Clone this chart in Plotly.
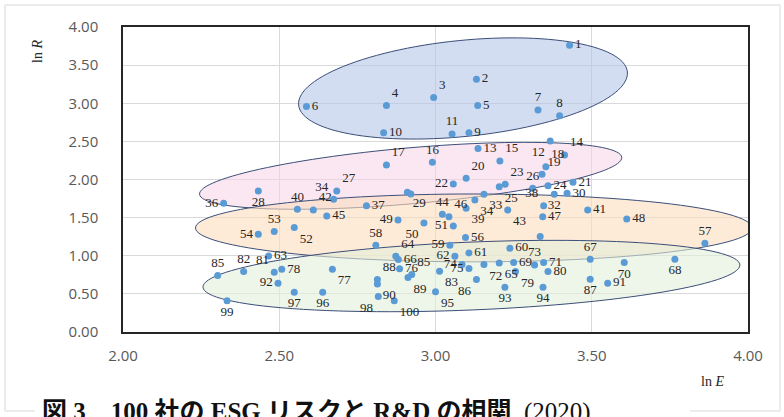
import math
import plotly.graph_objects as go

# ---- data: ln E (x) and ln R (y) for each company, with its point label ----
labels = ["1", "2", "3", "4", "5", "6", "7", "8", "9", "10",
          "11", "12", "13", "14", "15", "16", "17", "18", "19", "20",
          "21", "22", "23", "24", "25", "26", "27", "28", "29", "30",
          "", "32", "33", "34", "34", "36", "37", "38", "39", "40",
          "41", "42", "43", "44", "45", "46", "47", "48", "49", "50",
          "51", "52", "53", "54", "", "56", "57", "58", "59", "60",
          "61", "62", "63", "64", "65", "66", "67", "68", "69", "70",
          "71", "72", "73", "74", "75", "76", "77", "78", "79", "80",
          "81", "82", "83", "85", "85", "86", "87", "88", "89", "90",
          "91", "92", "93", "94", "95", "96", "97", "98", "99", "100"]

ln_e = [3.429, 3.131, 2.994, 2.843, 3.135, 2.587, 3.328, 3.397, 3.107, 2.834,
        3.053, 3.367, 3.136, 3.413, 3.206, 2.990, 2.843, 3.353, 3.341, 3.098,
        3.440, 3.057, 3.223, 3.360, 3.204, 3.311, 2.684, 2.433, 2.910, 3.421,
        2.921, 3.380, 3.155, 3.126, 2.674, 2.322, 2.779, 3.346, 3.098, 2.558,
        3.487, 2.609, 3.231, 3.022, 2.652, 3.043, 3.343, 3.612, 2.880, 2.963,
        3.057, 2.548, 2.484, 2.433, 3.335, 3.096, 3.862, 2.809, 3.046, 3.238,
        3.107, 3.062, 2.466, 2.873, 3.204, 2.881, 3.495, 3.766, 3.250, 3.604,
        3.346, 3.155, 3.317, 3.085, 3.107, 2.885, 2.670, 2.508, 3.256, 3.360,
        2.484, 2.386, 3.013, 2.303, 2.924, 3.131, 3.495, 2.814, 2.912, 2.814,
        3.551, 2.496, 3.222, 3.344, 3.000, 2.639, 2.548, 2.817, 2.333, 2.868]

ln_r = [3.761, 3.316, 3.077, 2.972, 2.972, 2.959, 2.910, 2.836, 2.613, 2.613,
        2.596, 2.504, 2.408, 2.321, 2.242, 2.225, 2.190, 2.168, 2.070, 2.015,
        1.963, 1.941, 1.937, 1.919, 1.905, 1.885, 1.849, 1.849, 1.832, 1.819,
        1.810, 1.806, 1.806, 1.731, 1.741, 1.688, 1.657, 1.657, 1.622, 1.610,
        1.600, 1.600, 1.600, 1.544, 1.522, 1.513, 1.513, 1.483, 1.470, 1.430,
        1.391, 1.369, 1.317, 1.282, 1.251, 1.238, 1.164, 1.138, 1.138, 1.099,
        1.037, 0.994, 0.998, 0.994, 0.906, 0.950, 0.955, 0.955, 0.911, 0.911,
        0.911, 0.884, 0.880, 0.884, 0.832, 0.828, 0.823, 0.823, 0.793, 0.793,
        0.784, 0.793, 0.797, 0.740, 0.753, 0.688, 0.693, 0.688, 0.715, 0.630,
        0.640, 0.640, 0.588, 0.588, 0.527, 0.522, 0.522, 0.465, 0.409, 0.409]

# where each point label sits relative to its marker
label_pos = ["middle right", "middle right", "top right", "top right", "middle right",
             "middle right", "top center", "top center", "middle right", "middle right",
             "top center", "bottom left", "middle right", "top right", "top right",
             "top center", "top right", "top right", "top right", "top right",
             "middle right", "middle left", "top right", "middle right", "bottom right",
             "top center", "top right", "bottom center", "bottom right", "middle right",
             "middle right", "bottom center", "bottom right", "bottom right", "top left",
             "middle left", "middle right", "top left", "bottom right", "top center",
             "middle right", "top right", "bottom right", "top center", "middle right",
             "top right", "middle right", "middle right", "middle left", "bottom left",
             "middle left", "bottom right", "top center", "middle left", "middle right",
             "middle right", "top center", "top center", "middle left", "middle right",
             "middle right", "middle left", "middle right", "top right", "bottom right",
             "middle right", "top center", "bottom center", "middle right", "bottom center",
             "middle right", "bottom right", "top center", "middle left", "middle left",
             "middle right", "bottom right", "middle right", "bottom right", "middle right",
             "top left", "top center", "bottom right", "top center", "top right",
             "bottom left", "bottom center", "top right", "bottom right", "bottom right",
             "middle right", "middle left", "bottom center", "bottom center", "bottom right",
             "bottom center", "bottom center", "bottom left", "bottom center", "bottom right"]

# group ellipses: left tip, right tip (ln E, ln R), half thickness in ln R units
ellipse_groups = [
    dict(left=(2.562, 2.976), right=(3.614, 3.412), half=0.63,
         fill="rgba(180,199,231,0.6)"),
    dict(left=(2.245, 1.806), right=(3.596, 2.291), half=0.367,
         fill="rgba(247,212,232,0.55)"),
    dict(left=(2.232, 1.365), right=(4.013, 1.365), half=0.445,
         fill="rgba(251,222,190,0.6)"),
    dict(left=(2.256, 0.588), right=(3.974, 0.880), half=0.445,
         fill="rgba(226,239,218,0.6)"),
]

# ---- layout geometry ----
W, H = 784, 417
ML, MR, MT, MB = 123, 36, 27, 85
PW, PH = W - ML - MR, H - MT - MB
X_RANGE = (2.0, 4.0)
Y_RANGE = (0.0, 4.0)
SX = PW / (X_RANGE[1] - X_RANGE[0])
SY = PH / (Y_RANGE[1] - Y_RANGE[0])


def ellipse_path(left, right, half, n=120):
    # build the ellipse in screen proportions, then map back to data units
    lx, ly = left[0] * SX, left[1] * SY
    rx, ry = right[0] * SX, right[1] * SY
    cx, cy = (lx + rx) / 2, (ly + ry) / 2
    ax, ay = (rx - lx) / 2, (ry - ly) / 2
    alen = math.hypot(ax, ay)
    nx, ny = -ay / alen, ax / alen
    b = half * SY
    pts = []
    for i in range(n + 1):
        t = 2 * math.pi * i / n
        px = cx + ax * math.cos(t) + nx * b * math.sin(t)
        py = cy + ay * math.cos(t) + ny * b * math.sin(t)
        pts.append((px / SX, py / SY))
    return "M " + " L ".join(f"{x:.4f},{y:.4f}" for x, y in pts) + " Z"


def px_to_paper(px, py):
    return (px - ML) / PW, (H - MB - py) / PH


fig = go.Figure()

fig.add_trace(go.Scatter(
    x=ln_e, y=ln_r, mode="markers+text",
    text=labels, textposition=label_pos,
    marker=dict(size=7, color="#5B9BD5"),
    textfont=dict(family="Liberation Serif, Times New Roman, serif", size=13, color="#262626"),
    cliponaxis=False, hoverinfo="x+y+text", showlegend=False,
))

shapes = []
for g in ellipse_groups:
    shapes.append(dict(
        type="path", xref="x", yref="y", layer="between",
        path=ellipse_path(g["left"], g["right"], g["half"]),
        fillcolor=g["fill"], line=dict(color="#3B4E78", width=1),
    ))

# outer chart frame
x0, y0 = px_to_paper(5, 411)
x1, y1 = px_to_paper(780, 5)
shapes.append(dict(type="rect", xref="paper", yref="paper", layer="above",
                   x0=x0, y0=y0, x1=x1, y1=y1,
                   line=dict(color="#d9d9d9", width=1), fillcolor="rgba(0,0,0,0)"))
# caption box
cx0, cy0 = px_to_paper(35, 420)
cx1, cy1 = px_to_paper(690, 398)
shapes.append(dict(type="rect", xref="paper", yref="paper", layer="above",
                   x0=cx0, y0=cy0, x1=cx1, y1=cy1,
                   line=dict(width=0), fillcolor="white"))

annotations = []
ax_x, ax_y = px_to_paper(38, 52)
annotations.append(dict(
    x=ax_x, y=ax_y, xref="paper", yref="paper", showarrow=False,
    text="ln <i>R</i>", textangle=-90,
    font=dict(family="Liberation Serif, Times New Roman, serif", size=14, color="#262626"),
    xanchor="center", yanchor="middle"))
ex, ey = px_to_paper(712, 381)
annotations.append(dict(
    x=ex, y=ey, xref="paper", yref="paper", showarrow=False,
    text="ln <i>E</i>",
    font=dict(family="Liberation Serif, Times New Roman, serif", size=14, color="#262626"),
    xanchor="center", yanchor="middle"))
tx, ty = px_to_paper(40, 396)
annotations.append(dict(
    x=tx, y=ty, xref="paper", yref="paper", showarrow=False,
    text="<b>図 3　100 社の ESG リスクと R&amp;D の相関</b>  (2020)",
    font=dict(family="Liberation Serif, Noto Sans CJK JP, serif", size=25, color="#111111"),
    xanchor="left", yanchor="top"))

axis_common = dict(
    showgrid=True, gridcolor="#d9d9d9", gridwidth=1.3,
    showline=True, linecolor="#262626", linewidth=1.5, mirror=True,
    zeroline=False, ticks="",
    tickfont=dict(family="Open Sans, DejaVu Sans, sans-serif", size=15, color="#595959"),
    tickformat=".2f", dtick=0.5,
)

fig.update_layout(
    width=W, height=H,
    margin=dict(l=ML, r=MR, t=MT, b=MB, pad=0),
    paper_bgcolor="white", plot_bgcolor="white",
    xaxis=dict(range=list(X_RANGE), tick0=2.0, ticklabelstandoff=9, **axis_common),
    yaxis=dict(range=list(Y_RANGE), tick0=0.0, ticklabelstandoff=20, **axis_common),
    shapes=shapes, annotations=annotations,
)

fig.write_html("out.html")
